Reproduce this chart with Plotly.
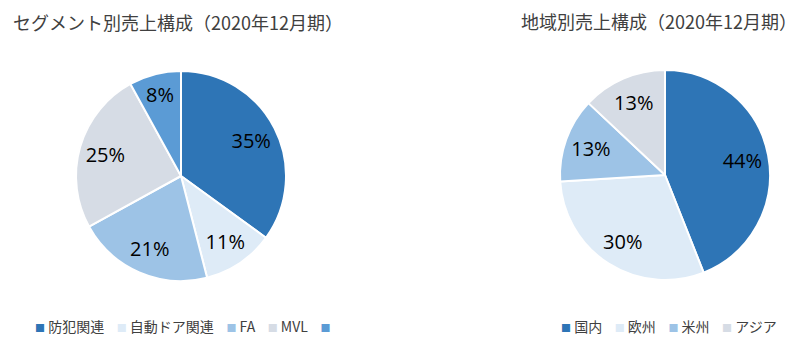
import plotly.graph_objects as go

seg_labels = ["防犯関連", "自動ドア関連", "FA", "MVL", ""]
seg_values = [35, 11, 21, 25, 8]
seg_colors = ["#2E75B6", "#DEEBF7", "#9DC3E6", "#D6DCE5", "#5B9BD5"]

reg_labels = ["国内", "欧州", "米州", "アジア"]
reg_values = [44, 30, 13, 13]
reg_colors = ["#2E75B6", "#DEEBF7", "#9DC3E6", "#D6DCE5"]

titles = ["セグメント別売上構成（2020年12月期）", "地域別売上構成（2020年12月期）"]

NUMFONT = "Open Sans, sans-serif"
JFONT = "Noto Sans CJK JP, sans-serif"
TXT = "#404040"

W, H = 811, 350
seg_domain = dict(x=[76 / W, 286 / W], y=[69 / H, 279 / H])
reg_domain = dict(x=[560 / W, 770 / W], y=[70 / H, 280 / H])

fig = go.Figure()


def add_pie(labels, values, colors, domain):
    ids = [f"{i}" for i in range(len(labels))]
    # filled slices
    fig.add_trace(go.Pie(
        labels=ids, values=values, sort=False, direction="clockwise",
        marker=dict(colors=colors, line=dict(color="white", width=2)),
        textinfo="none", domain=domain, showlegend=False,
        customdata=labels, hovertemplate="%{customdata}: %{percent}<extra></extra>",
    ))
    # transparent ring that carries the percentage labels
    fig.add_trace(go.Pie(
        labels=ids, values=values, sort=False, direction="clockwise", hole=0.5,
        marker=dict(colors=["rgba(0,0,0,0)"] * len(values), line=dict(width=0)),
        texttemplate="%{percent:.0%}", textposition="inside",
        insidetextorientation="horizontal",
        textfont=dict(size=20, color="black", family=NUMFONT),
        domain=domain, showlegend=False, hoverinfo="skip",
    ))


add_pie(seg_labels, seg_values, seg_colors, seg_domain)
add_pie(reg_labels, reg_values, reg_colors, reg_domain)


def legend_text(labels, colors):
    parts = []
    for lab, col in zip(labels, colors):
        parts.append(f"<span style='color:{col};font-size:10px'>■</span>\u00a0" + lab)
    return ("\u00a0" * 4).join(parts)


fig.update_layout(
    width=W, height=H, margin=dict(l=0, r=0, t=0, b=0, autoexpand=False),
    paper_bgcolor="white", plot_bgcolor="white",
    annotations=[
        dict(text=titles[0], x=178 / W, y=1 - 22 / H, xref="paper", yref="paper",
             showarrow=False, xanchor="center", yanchor="middle",
             font=dict(size=18, color=TXT, family=JFONT)),
        dict(text=titles[1], x=659 / W, y=1 - 21 / H, xref="paper", yref="paper",
             showarrow=False, xanchor="center", yanchor="middle",
             font=dict(size=18, color=TXT, family=JFONT)),
        dict(text=legend_text(seg_labels, seg_colors), x=33 / W, y=1 - 326 / H,
             xref="paper", yref="paper", showarrow=False, xanchor="left", yanchor="middle",
             font=dict(size=14, color=TXT, family=JFONT)),
        dict(text=legend_text(reg_labels, reg_colors), x=559 / W, y=1 - 326 / H,
             xref="paper", yref="paper", showarrow=False, xanchor="left", yanchor="middle",
             font=dict(size=14, color=TXT, family=JFONT)),
    ],
)
fig.write_html("out.html")
